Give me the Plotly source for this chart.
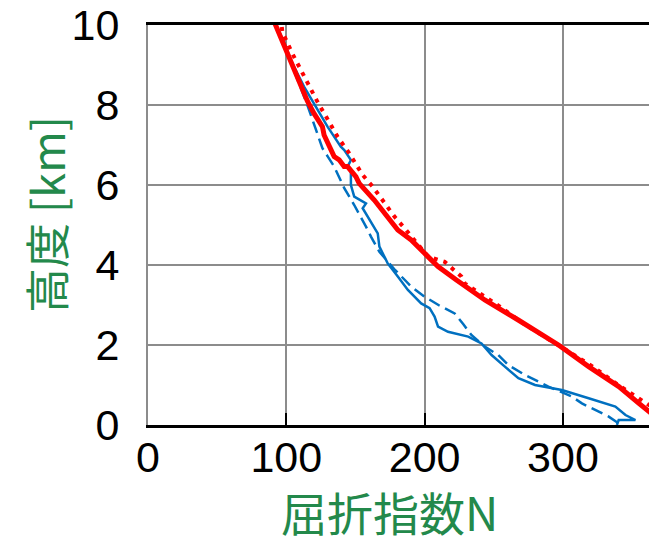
import plotly.graph_objects as go

# Red solid (measured)
red_solid_N = [91, 100.7, 108, 115.2, 120, 126.1, 127.3, 134.6, 138.2, 141.8, 144.3, 150.3, 152.7, 163.6,
               180.6, 190.3, 202.4, 209.7, 223, 233.8, 243.5, 267.7, 296.8, 318.6, 340.4, 354.9, 364, 370]
red_solid_h = [10.1, 9.29, 8.63, 8.1, 7.79, 7.46, 7.25, 6.71, 6.63, 6.46, 6.46, 6.21, 6.04, 5.625,
               4.875, 4.625, 4.21, 3.96, 3.625, 3.375, 3.125, 2.625, 2.0, 1.46, 0.96, 0.54, 0.3, 0.12]

# Red dotted (calculated)
red_dot_N = [96, 97.1, 104.3, 109.2, 117.6, 122.5, 130.9, 137, 145.5, 155.2, 162.4, 178.2, 186.6, 202.4,
             214.5, 226.6, 229, 254.4, 271.3, 297, 322, 340, 352.4, 362.1, 368.2, 374]
red_dot_h = [10.2, 9.83, 9.29, 8.96, 8.42, 8.08, 7.58, 7.21, 6.79, 6.25, 5.96, 5.21, 4.875, 4.21,
             4.08, 3.71, 3.54, 2.96, 2.54, 2.0, 1.45, 1.0, 0.71, 0.5, 0.42, 0.3]

# Blue solid (measured)
blue_solid_N = [91, 98, 104.3, 112.8, 121.3, 129.8, 139.4, 141.9, 146.7, 144.3, 146.7, 146.7, 149.1, 157.6, 155.2,
                158.8, 166.1, 167.3, 173.3, 180.6, 187.9, 197.5, 203.6, 207.2, 209.7, 216.9, 231.5, 241.1,
                248.4, 258, 267.8, 279.8, 299.2, 318.6, 337.9, 345.2, 352.4, 340.3, 339]
blue_solid_h = [10.1, 9.6, 9.04, 8.46, 7.96, 7.46, 6.96, 6.875, 6.625, 6.46, 6.375, 6.0, 5.71, 5.54, 5.42,
                5.21, 4.79, 4.46, 4.04, 3.71, 3.375, 3.04, 2.92, 2.71, 2.46, 2.33, 2.21, 2.04,
                1.75, 1.46, 1.17, 1.0, 0.875, 0.67, 0.46, 0.25, 0.125, 0.125, 0.0]

# Blue dashed (calculated)
blue_dash_N = [91, 104, 115.2, 120, 126.1, 130, 134.6, 141.9, 149.1, 157.6, 161.2, 167.3, 178, 190.3, 199.9,
               210, 221.7, 228, 233.8, 243.5, 253.2, 260.5, 272.6, 289.5, 306.5, 313.7, 323.4, 333.1, 340.3]
blue_dash_h = [10.1, 9.0, 8.0, 7.54, 6.92, 6.71, 6.46, 5.92, 5.5, 4.96, 4.71, 4.33, 3.9, 3.46, 3.21,
               3.0, 2.79, 2.52, 2.25, 1.96, 1.75, 1.5, 1.25, 0.96, 0.71, 0.54, 0.375, 0.21, 0.04]

x_ticks = [0, 100, 200, 300]
y_ticks = [0, 2, 4, 6, 8, 10]
x_title = "屈折指数N"
y_title = "高度 [km]"

RED = "#ff0000"
BLUE = "#0070c0"
GREEN = "#23894b"
TICKFONT = "Liberation Sans, Arial"
CJK = "Noto Sans CJK JP"

fig = go.Figure()
fig.add_trace(go.Scatter(x=blue_dash_N, y=blue_dash_h, mode="lines",
                         line=dict(color=BLUE, width=2.5, dash="12px,6px")))
fig.add_trace(go.Scatter(x=blue_solid_N, y=blue_solid_h, mode="lines",
                         line=dict(color=BLUE, width=2.5)))
fig.add_trace(go.Scatter(x=red_dot_N, y=red_dot_h, mode="lines",
                         line=dict(color=RED, width=4, dash="4px,6px")))
fig.add_trace(go.Scatter(x=red_solid_N, y=red_solid_h, mode="lines",
                         line=dict(color=RED, width=5)))

fig.update_layout(
    width=657, height=538,
    margin=dict(l=140, r=8, t=17, b=121),
    paper_bgcolor="white", plot_bgcolor="white",
    showlegend=False,
    font=dict(family=TICKFONT, color="black"),
    xaxis=dict(range=[0, 368], tickvals=x_ticks, ticktext=[str(v) for v in x_ticks],
               automargin=False, ticklabeloverflow="allow",
               showgrid=True, gridcolor="#8c8c8c", gridwidth=2,
               showline=True, linecolor="black", linewidth=3, mirror=True,
               ticks="inside", ticklen=12, tickwidth=2, tickcolor="black",
               tickfont=dict(size=43, family=TICKFONT, color="black"),
               ticklabelstandoff=-8, zeroline=False),
    yaxis=dict(range=[0, 10], tickvals=y_ticks, ticktext=[str(v) for v in y_ticks],
               automargin=False, ticklabeloverflow="allow",
               showgrid=True, gridcolor="#8c8c8c", gridwidth=2,
               showline=True, linecolor="#8c8c8c", linewidth=2,
               ticks="", zeroline=False,
               tickfont=dict(size=43, family=TICKFONT, color="black"),
               ticklabelstandoff=18),
    annotations=[
        dict(text=x_title, xref="paper", yref="paper", x=0.475, y=0, yshift=-86,
             xanchor="center", yanchor="middle", showarrow=False,
             font=dict(size=46, family=CJK, color=GREEN)),
        dict(text=y_title, xref="paper", yref="paper", x=0, y=0.525, xshift=-103,
             xanchor="center", yanchor="middle", textangle=-90, showarrow=False,
             font=dict(size=45, family=CJK, color=GREEN)),
    ],
)

fig.write_html("out.html")
